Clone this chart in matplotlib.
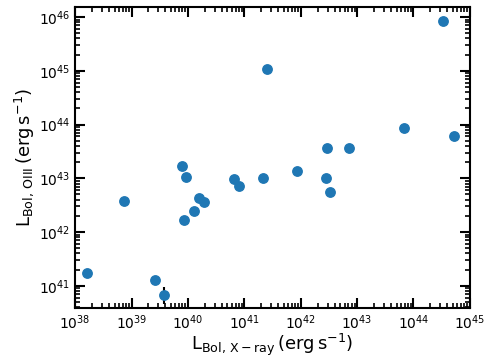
import matplotlib
matplotlib.use('Agg')
import matplotlib.pyplot as plt
import numpy as np

# log10 luminosities
log_lx = [38.21, 38.87, 39.41, 39.57, 39.90, 39.97, 39.93, 40.10, 40.20, 40.28,
          40.82, 40.90, 41.34, 41.40, 41.93, 42.45, 42.52, 42.47, 42.86, 43.84,
          44.71, 44.53]
log_loiii = [41.23, 42.57, 41.10, 40.82, 43.23, 43.02, 42.23, 42.39, 42.64, 42.56,
             42.98, 42.85, 43.00, 45.03, 43.14, 43.00, 42.74, 43.57, 43.57, 43.94,
             43.78, 45.92]
# the single point with an error bar
err_x = 39.57
err_y = 40.82
err_dex = 0.15

lx = 10 ** np.array(log_lx)
loiii = 10 ** np.array(log_loiii)

fig = plt.figure(figsize=(4.91, 3.62), dpi=100)
ax = fig.add_axes([0.153, 0.149, 0.804, 0.832])

ax.errorbar([10 ** err_x], [10 ** err_y],
            yerr=[[10 ** err_y - 10 ** (err_y - err_dex)], [10 ** (err_y + err_dex) - 10 ** err_y]],
            fmt='none', ecolor='black', elinewidth=1.5, zorder=1)
ax.scatter(lx, loiii, s=46, color='#1f77b4', zorder=2)

ax.set_xscale('log')
ax.set_yscale('log')
ax.set_xlim(1e38, 1e45)
ax.set_ylim(3.85e40, 1.55e46)

ax.set_xlabel(r'$\mathrm{L_{Bol,\,X-ray}\,(erg\,s^{-1})}$', fontsize=13, labelpad=0)
ax.set_ylabel(r'$\mathrm{L_{Bol,\,OIII}\,(erg\,s^{-1})}$', fontsize=13, labelpad=2)

ax.tick_params(which='both', direction='in', top=True, right=True, labelsize=10)
ax.tick_params(which='major', length=7, width=1.5)
ax.tick_params(which='minor', length=3.5, width=1.2)
ax.xaxis.set_major_locator(matplotlib.ticker.LogLocator(base=10, numticks=10))
ax.xaxis.set_minor_locator(matplotlib.ticker.LogLocator(base=10, subs=np.arange(2, 10), numticks=20))
for sp in ax.spines.values():
    sp.set_linewidth(1.5)

plt.savefig('out.png', dpi=100)
